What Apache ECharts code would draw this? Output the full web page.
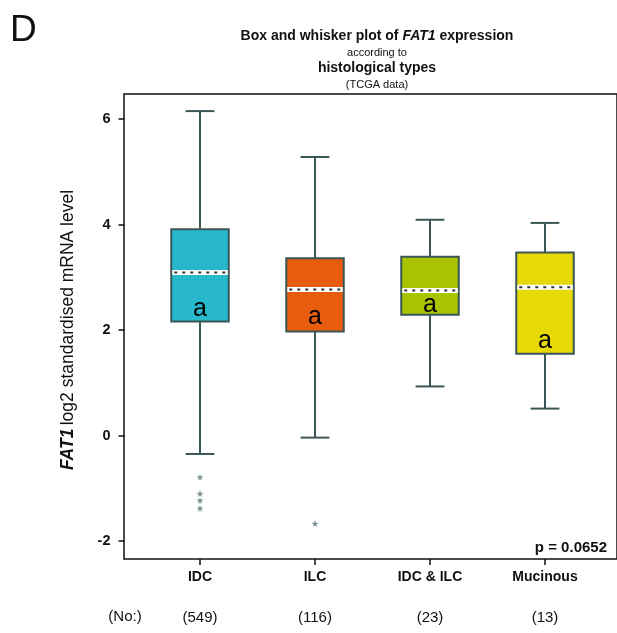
<!DOCTYPE html>
<html>
<head>
<meta charset="utf-8">
<script src="https://cdn.jsdelivr.net/npm/echarts@6/dist/echarts.min.js"></script>
<style>
  html, body { margin: 0; padding: 0; background: #fff; }
  #main { width: 617px; height: 633px; }
</style>
</head>
<body>
<div id="main"></div>
<script>
// 数据
var categories = ['IDC', 'ILC', 'IDC & ILC', 'Mucinous'];
var counts = [549, 116, 23, 13];
// [low, q1, median, q3, high]
var boxStats = [
    [-0.35, 2.16, 3.09, 3.91, 6.15],
    [-0.04, 1.97, 2.77, 3.36, 5.28],
    [0.93, 2.29, 2.75, 3.39, 4.09],
    [0.51, 1.55, 2.81, 3.47, 4.03]
];
var groupLetters = ['a', 'a', 'a', 'a'];
var letterY = [2.39, 2.24, 2.48, 1.78];
var outliers = [
    [0, -0.79], [0, -1.10], [0, -1.23], [0, -1.38],
    [1, -1.67]
];
var boxColors = ['#27b8cc', '#e85c0f', '#a9c300', '#e7d808'];
var yTicks = [-2, 0, 2, 4, 6];

var lineColor = '#3b5656';

var myChart = echarts.init(document.getElementById('main'));

var boxData = boxStats.map(function (s, i) {
    return [i].concat(s).concat([letterY[i]]);
});

var option = {
    animation: false,
    backgroundColor: '#fff',
    textStyle: { fontFamily: 'Liberation Sans, Arial, sans-serif' },
    title: {
        left: 372,
        top: 23,
        textAlign: 'center',
        text: '{t|Box and whisker plot of }{ti|FAT1}{t| expression}\n{s|according to}\n{t|histological types}\n{s|(TCGA data)}',
        textStyle: {
            rich: {
                t: { fontSize: 14, fontWeight: 'bold', color: '#111', lineHeight: 17, fontFamily: 'Liberation Sans' },
                ti: { fontSize: 14, fontWeight: 'bold', fontStyle: 'italic', color: '#111', lineHeight: 17, fontFamily: 'Liberation Sans' },
                s: { fontSize: 11, fontWeight: 'normal', color: '#111', lineHeight: 15, fontFamily: 'Liberation Sans' }
            }
        }
    },
    grid: [
        { left: 142.5, right: 14.5, top: 119, bottom: 92 },
        // 外框
        { left: 124, right: -3, top: 94, bottom: 74, show: true, borderColor: '#111', borderWidth: 1.5, backgroundColor: 'transparent' }
    ],
    xAxis: [{
        type: 'category',
        data: categories,
        offset: 18,
        axisLine: { show: false, onZero: false },
        axisTick: { show: true, alignWithLabel: true, length: 6, lineStyle: { color: '#111', width: 1.5 } },
        axisLabel: {
            margin: 8,
            formatter: function (v, i) {
                return '{b|' + v + '}\n{n|(' + counts[i] + ')}';
            },
            rich: {
                b: { fontSize: 14, fontWeight: 'bold', color: '#111', lineHeight: 20, fontFamily: 'Liberation Sans' },
                n: { fontSize: 15, color: '#111', lineHeight: 62, fontFamily: 'Liberation Sans' }
            }
        },
        splitLine: { show: false }
    }, {
        type: 'value', gridIndex: 1, show: false
    }],
    yAxis: [{
        type: 'value',
        min: yTicks[0],
        max: yTicks[yTicks.length - 1],
        interval: 2,
        offset: 18,
        axisLine: { show: false },
        axisTick: { show: true, length: 6, lineStyle: { color: '#111', width: 1.5 } },
        axisLabel: { fontSize: 14.5, fontWeight: 'bold', color: '#111', margin: 14, fontFamily: 'Liberation Sans' },
        splitLine: { show: false },
        name: '{i|FAT1} {n|log2 standardised mRNA level}',
        nameLocation: 'middle',
        nameRotate: 90,
        nameGap: 47,
        nameTextStyle: {
            rich: {
                i: { fontSize: 17.5, fontWeight: 'bold', fontStyle: 'italic', color: '#111', fontFamily: 'Liberation Sans' },
                n: { fontSize: 17.5, color: '#111', fontFamily: 'Liberation Sans' }
            }
        }
    }, {
        type: 'value', gridIndex: 1, show: false
    }],
    graphic: [
        { type: 'text', x: 10, y: 31, style: { text: 'D', fontSize: 37, fill: '#111', verticalAlign: 'middle', fontFamily: 'Liberation Sans' } },
        { type: 'text', x: 607, y: 548, style: { text: 'p = 0.0652', fontSize: 15, fontWeight: 'bold', fill: '#111', align: 'right', verticalAlign: 'middle', fontFamily: 'Liberation Sans' } },
        { type: 'text', x: 125, y: 617, style: { text: '(No:)', fontSize: 15, fill: '#111', align: 'center', verticalAlign: 'middle', fontFamily: 'Liberation Sans' } }
    ],
    series: [{
        type: 'custom',
        data: boxData,
        encode: { x: 0, y: [1, 2, 3, 4, 5] },
        renderItem: function (params, api) {
            var x = api.value(0);
            var low = api.coord([x, api.value(1)]);
            var q1 = api.coord([x, api.value(2)]);
            var med = api.coord([x, api.value(3)]);
            var q3 = api.coord([x, api.value(4)]);
            var high = api.coord([x, api.value(5)]);
            var lt = api.coord([x, api.value(6)]);
            var cx = low[0];
            var half = api.size([1, 0])[0] * 0.25;
            var cap = half * 0.5;
            var st = { stroke: lineColor, lineWidth: 2 };
            return {
                type: 'group',
                children: [
                    { type: 'line', shape: { x1: cx, y1: high[1], x2: cx, y2: q3[1] }, style: st },
                    { type: 'line', shape: { x1: cx, y1: q1[1], x2: cx, y2: low[1] }, style: st },
                    { type: 'line', shape: { x1: cx - cap, y1: high[1], x2: cx + cap, y2: high[1] }, style: st },
                    { type: 'line', shape: { x1: cx - cap, y1: low[1], x2: cx + cap, y2: low[1] }, style: st },
                    { type: 'rect', shape: { x: cx - half, y: q3[1], width: half * 2, height: q1[1] - q3[1] },
                      style: { fill: boxColors[params.dataIndex], stroke: lineColor, lineWidth: 2 } },
                    { type: 'line', shape: { x1: cx - half + 1, y1: med[1], x2: cx + half - 1, y2: med[1] },
                      style: { stroke: '#fff', lineWidth: 5 } },
                    { type: 'line', shape: { x1: cx - half + 3, y1: med[1], x2: cx + half - 1, y2: med[1] },
                      style: { stroke: '#333', lineWidth: 2, lineDash: [3, 5] } },
                    { type: 'text', x: cx, y: lt[1],
                      style: { text: groupLetters[params.dataIndex], fontSize: 25, fill: '#000', align: 'center', verticalAlign: 'middle', fontFamily: 'Liberation Sans' } }
                ]
            };
        },
        z: 3
    }, {
        type: 'scatter',
        data: outliers,
        symbol: 'path://M50,0 L61,35 L98,35 L68,57 L79,91 L50,70 L21,91 L32,57 L2,35 L39,35 Z',
        symbolSize: 7,
        itemStyle: { color: '#566f7c' },
        z: 4
    }]
};

myChart.setOption(option);
</script>
</body>
</html>
